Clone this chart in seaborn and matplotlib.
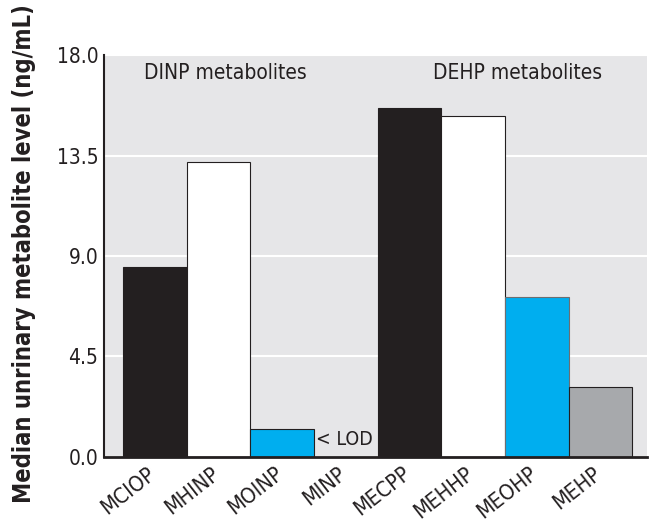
import numpy as np
import pandas as pd
import matplotlib
matplotlib.use("Agg")
import matplotlib.pyplot as plt
import matplotlib.transforms as mtransforms
import seaborn as sns

# Median urinary metabolite levels (ng/mL); MINP was below the limit of detection
metabolites = ["MCIOP", "MHINP", "MOINP", "MINP", "MECPP", "MEHHP", "MEOHP", "MEHP"]
levels = [8.5, 13.2, 1.25, np.nan, 15.63, 15.3, 7.15, 3.12]
bar_colors = ["#231f20", "#ffffff", "#00aeef", "#ffffff",
              "#231f20", "#ffffff", "#00aeef", "#a7a9ac"]
edge_colors = ["#231f20", "#231f20", "#231f20", "#231f20",
               "#231f20", "#6d6e71", "#231f20", "#231f20"]
y_ticks = [0.0, 4.5, 9.0, 13.5, 18.0]

df = pd.DataFrame({"metabolite": metabolites, "level": levels})

sns.set_theme(style="darkgrid")
plt.rcParams["font.family"] = ["DejaVu Sans"]
plt.rcParams["font.stretch"] = "condensed"

fig = plt.figure(figsize=(6.53, 5.23), dpi=100)
ax = fig.add_axes([0.159, 0.127, 0.832, 0.767])
ax.set_facecolor("#e6e6e8")

sns.barplot(data=df, x="metabolite", y="level", hue="metabolite",
            palette=bar_colors, saturation=1, width=1.0, legend=False, ax=ax,
            edgecolor="#231f20", linewidth=0.8)
for patch, ec in zip(ax.patches, edge_colors):
    patch.set_edgecolor(ec)

ax.set_ylim(0, 18)
ax.set_xlim(-0.8, 7.73)
ax.set_yticks(y_ticks)
ax.set_yticklabels([f"{t:.1f}" for t in y_ticks], fontsize=15, color="#231f20")
ax.set_xticks(range(len(metabolites)))
ax.set_xticklabels(metabolites, rotation=38, ha="right", rotation_mode="anchor",
                   fontsize=15.5, color="#231f20")
ax.tick_params(axis="y", length=0, pad=4)
ax.tick_params(axis="x", length=0, pad=5)
shift = mtransforms.ScaledTranslation(-8 / 100, 0, fig.dpi_scale_trans)
for lbl in ax.get_xticklabels():
    lbl.set_transform(lbl.get_transform() + shift)
ax.grid(axis="y", color="white", linewidth=1.5)
ax.grid(axis="x", visible=False)

for side in ["top", "right"]:
    ax.spines[side].set_visible(False)
ax.spines["left"].set_visible(True)
ax.spines["left"].set_color("#231f20")
ax.spines["left"].set_linewidth(1.5)
ax.spines["bottom"].set_visible(True)
ax.spines["bottom"].set_color("#231f20")
ax.spines["bottom"].set_linewidth(2)

ax.set_xlabel("")
ax.set_ylabel("Median unrinary metabolite level (ng/mL)", fontsize=17,
              fontweight="bold", color="#231f20")
ax.yaxis.set_label_coords(-0.125, 0.505)

ax.text(-0.17, 17.2, "DINP metabolites", fontsize=15, color="#231f20", va="center")
ax.text(4.37, 17.2, "DEHP metabolites", fontsize=15, color="#231f20", va="center")
ax.text(2.53, 0.78, "< LOD", fontsize=14, color="#231f20", va="center")

fig.savefig("out.png", dpi=100)
